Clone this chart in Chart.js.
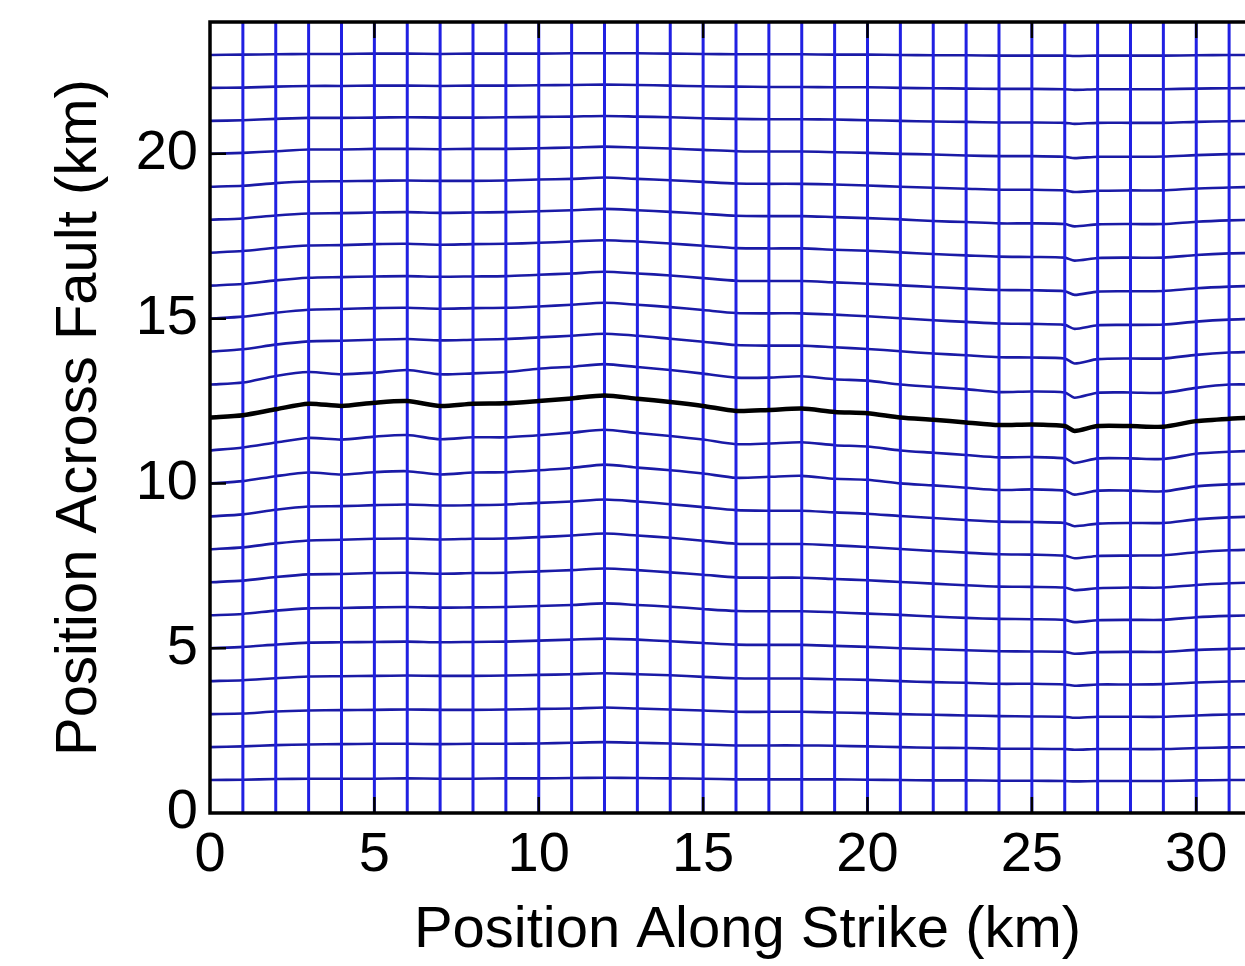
<!DOCTYPE html>
<html>
<head>
<meta charset="utf-8">
<script src="https://cdn.jsdelivr.net/npm/chart.js@4.4.1/dist/chart.umd.min.js"></script>
<style>
html,body{margin:0;padding:0;background:#fff;overflow:hidden;width:1245px;height:966px;}
canvas{display:block;}
</style>
</head>
<body>
<canvas id="c" width="1292" height="966" style="width:1292px;height:966px"></canvas>
<script>
// sample positions along strike (km)
const X_POS = [0,1,2,3,4,5,6,7,8,9,10,11,12,13,14,15,16,17,18,19,20,21,22,23,24,25,26,26.3,27,28,29,30,31,32];

// deformed horizontal grid lines: position across fault (km) at each X_POS
const H01 = [1.00,1.01,1.03,1.04,1.04,1.04,1.05,1.04,1.04,1.05,1.05,1.06,1.07,1.06,1.05,1.04,1.02,1.02,1.02,1.02,1.01,1.00,0.99,0.99,0.98,0.98,0.97,0.96,0.97,0.97,0.97,0.99,1.00,1.00];
const H02 = [2.00,2.02,2.06,2.08,2.09,2.10,2.10,2.09,2.10,2.10,2.11,2.13,2.15,2.13,2.11,2.08,2.05,2.05,2.05,2.04,2.02,2.00,1.98,1.97,1.95,1.95,1.94,1.92,1.94,1.94,1.94,1.97,1.99,2.00];
const H03 = [3.00,3.02,3.08,3.11,3.12,3.13,3.14,3.13,3.13,3.14,3.16,3.17,3.20,3.17,3.14,3.11,3.07,3.07,3.07,3.05,3.03,3.00,2.98,2.96,2.94,2.93,2.92,2.89,2.92,2.92,2.92,2.96,2.99,3.00];
const H04 = [4.00,4.03,4.09,4.14,4.15,4.16,4.17,4.16,4.16,4.17,4.19,4.21,4.24,4.21,4.18,4.13,4.09,4.08,4.08,4.06,4.04,4.00,3.97,3.95,3.92,3.92,3.90,3.86,3.90,3.90,3.91,3.96,3.99,4.00];
const H05 = [5.00,5.04,5.11,5.17,5.18,5.19,5.20,5.18,5.19,5.20,5.23,5.26,5.29,5.26,5.21,5.16,5.11,5.10,5.10,5.07,5.04,5.00,4.97,4.94,4.91,4.90,4.89,4.83,4.88,4.89,4.89,4.95,4.98,5.00];
const H06 = [6.00,6.04,6.14,6.21,6.22,6.24,6.25,6.23,6.24,6.25,6.28,6.31,6.36,6.31,6.26,6.19,6.13,6.12,6.12,6.09,6.05,6.01,5.96,5.92,5.89,5.88,5.86,5.79,5.85,5.86,5.86,5.94,5.98,6.00];
const H07 = [7.00,7.05,7.16,7.24,7.25,7.28,7.29,7.26,7.28,7.29,7.33,7.37,7.42,7.37,7.30,7.23,7.15,7.14,7.14,7.10,7.06,7.01,6.96,6.91,6.87,6.86,6.84,6.76,6.82,6.84,6.84,6.92,6.97,7.00];
const H08 = [8.00,8.06,8.18,8.27,8.29,8.32,8.33,8.30,8.32,8.33,8.37,8.42,8.48,8.42,8.35,8.26,8.17,8.16,8.16,8.12,8.07,8.01,7.95,7.90,7.85,7.84,7.81,7.73,7.80,7.81,7.82,7.91,7.97,8.00];
const H09 = [9.00,9.06,9.20,9.30,9.31,9.34,9.36,9.33,9.34,9.36,9.41,9.45,9.51,9.45,9.37,9.28,9.19,9.17,9.17,9.12,9.08,9.01,8.95,8.89,8.84,8.83,8.80,8.70,8.78,8.80,8.80,8.91,8.97,9.00];
const H10 = [10.00,10.07,10.22,10.33,10.27,10.34,10.37,10.27,10.33,10.34,10.40,10.47,10.57,10.48,10.40,10.30,10.17,10.20,10.23,10.14,10.11,10.00,9.94,9.87,9.80,9.82,9.78,9.66,9.78,9.78,9.76,9.91,9.97,10.00];
const H11 = [11.00,11.09,11.24,11.38,11.33,11.42,11.47,11.34,11.40,11.40,11.46,11.54,11.63,11.53,11.44,11.33,11.19,11.21,11.25,11.16,11.12,11.00,10.93,10.86,10.79,10.80,10.76,10.62,10.76,10.76,10.74,10.90,10.96,11.00];
const H13 = [13.00,13.06,13.26,13.38,13.31,13.36,13.44,13.31,13.34,13.38,13.48,13.54,13.62,13.53,13.44,13.33,13.21,13.21,13.25,13.16,13.12,13.00,12.93,12.86,12.77,12.79,12.76,12.60,12.75,12.76,12.75,12.90,13.00,13.00];
const H14 = [14.00,14.07,14.21,14.31,14.33,14.36,14.38,14.34,14.36,14.38,14.43,14.48,14.54,14.48,14.39,14.30,14.20,14.18,14.18,14.13,14.08,14.01,13.94,13.89,13.83,13.82,13.79,13.64,13.77,13.79,13.79,13.90,13.97,14.00];
const H15 = [15.00,15.06,15.18,15.27,15.29,15.32,15.33,15.30,15.32,15.33,15.37,15.42,15.48,15.42,15.35,15.26,15.17,15.16,15.16,15.12,15.07,15.01,14.95,14.90,14.85,14.84,14.81,14.69,14.80,14.81,14.82,14.91,14.97,15.00];
const H16 = [16.00,16.05,16.16,16.24,16.26,16.28,16.29,16.27,16.28,16.29,16.33,16.37,16.42,16.37,16.31,16.23,16.15,16.14,16.14,16.10,16.06,16.01,15.96,15.91,15.87,15.86,15.83,15.72,15.82,15.83,15.84,15.92,15.97,16.00];
const H17 = [17.00,17.05,17.15,17.22,17.23,17.26,17.27,17.24,17.26,17.27,17.30,17.34,17.38,17.34,17.28,17.21,17.14,17.13,17.13,17.09,17.06,17.01,16.96,16.92,16.88,16.87,16.85,16.76,16.84,16.85,16.85,16.93,16.98,17.00];
const H18 = [18.00,18.04,18.13,18.19,18.20,18.22,18.23,18.21,18.22,18.23,18.26,18.29,18.33,18.29,18.24,18.18,18.12,18.11,18.11,18.08,18.05,18.01,17.96,17.93,17.89,17.89,17.87,17.80,17.86,17.87,17.87,17.94,17.98,18.00];
const H19 = [19.00,19.03,19.11,19.16,19.17,19.18,19.19,19.18,19.18,19.19,19.22,19.24,19.28,19.24,19.20,19.15,19.10,19.09,19.09,19.07,19.04,19.00,18.97,18.94,18.91,18.91,18.89,18.84,18.88,18.89,18.89,18.95,18.98,19.00];
const H20 = [20.00,20.03,20.08,20.13,20.13,20.15,20.15,20.14,20.15,20.15,20.17,20.19,20.22,20.19,20.16,20.12,20.08,20.07,20.07,20.05,20.03,20.00,19.98,19.95,19.93,19.93,19.91,19.87,19.91,19.91,19.92,19.96,19.99,20.00];
const H21 = [21.00,21.02,21.06,21.09,21.09,21.10,21.11,21.10,21.10,21.11,21.12,21.13,21.15,21.13,21.11,21.08,21.06,21.05,21.05,21.04,21.02,21.00,20.98,20.97,20.95,20.95,20.94,20.91,20.94,20.94,20.94,20.97,20.99,21.00];
const H22 = [22.00,22.01,22.04,22.06,22.06,22.07,22.07,22.06,22.07,22.07,22.08,22.09,22.10,22.09,22.07,22.05,22.04,22.03,22.03,22.02,22.02,22.00,21.99,21.98,21.97,21.97,21.96,21.94,21.96,21.96,21.96,21.98,21.99,22.00];
const H23 = [23.00,23.01,23.02,23.03,23.03,23.04,23.04,23.03,23.04,23.04,23.04,23.05,23.05,23.05,23.04,23.03,23.02,23.02,23.02,23.01,23.01,23.00,22.99,22.99,22.98,22.98,22.98,22.97,22.98,22.98,22.98,22.99,23.00,23.00];

// the fault trace (black line)
const FAULT = [12.00,12.07,12.25,12.42,12.35,12.45,12.50,12.35,12.42,12.43,12.50,12.58,12.67,12.57,12.47,12.35,12.20,12.23,12.27,12.17,12.13,12.00,11.93,11.85,11.77,11.79,11.74,11.59,11.74,11.74,11.72,11.89,11.96,12.00];

// straight vertical grid lines (km along strike)
const VERTICAL_X = [1,2,3,4,5,6,7,8,9,10,11,12,13,14,15,16,17,18,19,20,21,22,23,24,25,26,27,28,29,30,31,32];

const X_TICKS = [0,5,10,15,20,25,30];
const Y_TICKS = [0,5,10,15,20];
const X_RANGE = [0,32.7];
const Y_RANGE = [0,24];

const HLINES = [H01,H02,H03,H04,H05,H06,H07,H08,H09,H10,H11,H13,H14,H15,H16,H17,H18,H19,H20,H21,H22,H23];

const toPts = arr => arr.map((v,i)=>({x:X_POS[i], y:v}));

const datasets = [];
datasets.push({data:toPts(FAULT), borderColor:'#000', borderWidth:4.5, tension:0.25, order:0});
VERTICAL_X.forEach(v=>{
  datasets.push({data:[{x:v,y:Y_RANGE[0]},{x:v,y:Y_RANGE[1]}], borderColor:'#2020e2', borderWidth:3, tension:0, order:1});
});
HLINES.forEach(arr=>{
  datasets.push({data:toPts(arr), borderColor:'#1a1aa6', borderWidth:2.6, tension:0.25, order:2});
});

const framePlugin = {
  id:'frame',
  afterDatasetsDraw(chart){
    const {ctx, chartArea:a, scales:{x,y}} = chart;
    ctx.save();
    ctx.strokeStyle='#000';
    ctx.lineWidth=2.5;
    ctx.beginPath();
    X_TICKS.filter(v=>v>X_RANGE[0]).forEach(v=>{
      const px=x.getPixelForValue(v);
      ctx.moveTo(px,a.bottom); ctx.lineTo(px,a.bottom-16);
      ctx.moveTo(px,a.top); ctx.lineTo(px,a.top+16);
    });
    Y_TICKS.filter(v=>v>Y_RANGE[0]).forEach(v=>{
      const py=y.getPixelForValue(v);
      ctx.moveTo(a.left,py); ctx.lineTo(a.left+16,py);
      ctx.moveTo(a.right,py); ctx.lineTo(a.right-16,py);
    });
    ctx.stroke();
    ctx.lineWidth=3.5;
    ctx.strokeRect(a.left,a.top,a.right-a.left,a.bottom-a.top);
    ctx.restore();
  }
};

const FONT = "'Liberation Sans', Arial, Helvetica, sans-serif";

new Chart(document.getElementById('c'), {
  type:'scatter',
  data:{datasets},
  options:{
    responsive:false,
    animation:false,
    events:[],
    layout:{padding:{left:0,top:22,right:7,bottom:0}},
    elements:{point:{radius:0}, line:{fill:false}},
    datasets:{scatter:{showLine:true, pointRadius:0}},
    plugins:{legend:{display:false}, tooltip:{enabled:false}},
    scales:{
      x:{
        type:'linear', min:X_RANGE[0], max:X_RANGE[1],
        grid:{display:false, drawTicks:false},
        border:{display:false},
        afterFit(s){ s.height = 153; s.paddingLeft = 0; s.paddingRight = 0; },
        afterBuildTicks(s){ s.ticks = X_TICKS.map(v=>({value:v})); },
        ticks:{color:'#000', font:{family:FONT, size:56}, padding:9, maxRotation:0, autoSkip:false},
        title:{display:true, text:'Position Along Strike (km)', color:'#000', font:{family:FONT, size:58}, padding:{top:0,bottom:0}}
      },
      y:{
        type:'linear', min:Y_RANGE[0], max:Y_RANGE[1],
        grid:{display:false, drawTicks:false},
        border:{display:false},
        afterFit(s){ s.width = 210; s.paddingTop = 0; s.paddingBottom = 0; },
        afterBuildTicks(s){ s.ticks = Y_TICKS.map(v=>({value:v})); },
        ticks:{color:'#000', font:{family:FONT, size:56}, padding:12, autoSkip:false},
        title:{display:true, text:'Position Across Fault (km)', color:'#000', font:{family:FONT, size:58}, padding:{top:45,bottom:0}}
      }
    }
  },
  plugins:[framePlugin]
});
</script>
</body>
</html>
